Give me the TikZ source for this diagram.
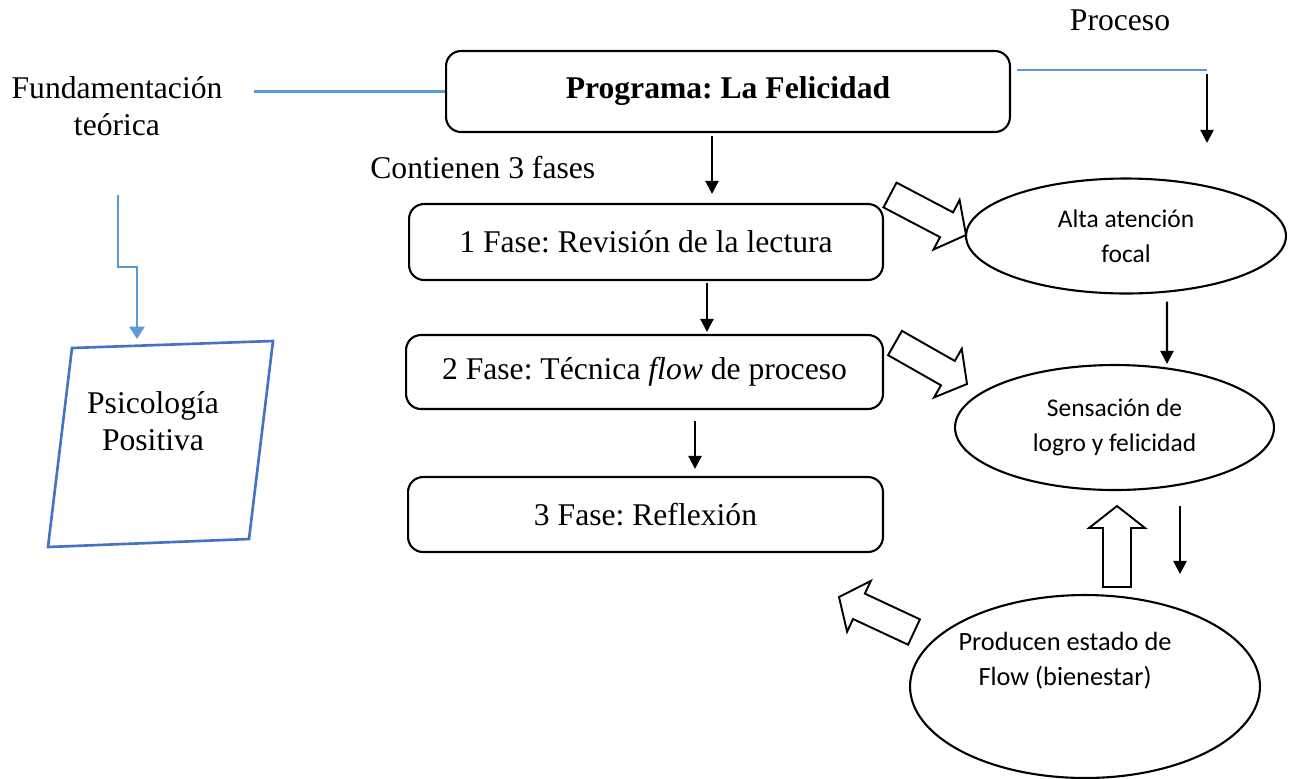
\documentclass[tikz,border=0pt]{standalone}
\usepackage{fontspec}
\setmainfont{Liberation Serif}
\newfontfamily\calibri{Carlito}
\usetikzlibrary{shapes.geometric, arrows.meta, calc}
\frenchspacing

\definecolor{lineblue}{HTML}{5B9BD5}
\definecolor{shapeblue}{HTML}{4472C4}

\newcommand{\hollowarrow}[2]{%
    \coordinate (ha-neck) at ($(#2)!0.44cm!(#1)$);
    \draw[hollow] ($(#1)!0.28cm!90:(#2)$) -- ($(ha-neck)!0.28cm!-90:(#1)$)
        -- ($(ha-neck)!0.56cm!-90:(#1)$) -- (#2) -- ($(ha-neck)!0.56cm!90:(#1)$)
        -- ($(ha-neck)!0.28cm!90:(#1)$) -- ($(#1)!0.28cm!-90:(#2)$) -- cycle;
}

\begin{document}
\begin{tikzpicture}
    [
        x = 0.02cm, y = -0.02cm,
        every node/.style = {font = \fontsize{18}{21}\selectfont},
        fase/.style = {draw, rounded corners = 0.3cm, line width = 1.2pt, inner sep = 0pt},
        bubble/.style = {draw, ellipse, line width = 1.2pt, inner sep = 0pt, align = center,
            font = \calibri\fontsize{14.5}{20}\selectfont},
        arr/.style = {line width = 1.3pt, -{Triangle[width = 7.5pt, length = 7.5pt]}},
        blueline/.style = {draw = lineblue, line width = 1.4pt},
        bluearr/.style = {blueline, -{Triangle[width = 8.5pt, length = 7pt]}},
        hollow/.style = {draw, fill = white, line width = 1.1pt, line join = miter}
    ]

    \useasboundingbox (0, 0) rectangle (1290, 778);

    \node[fase, minimum width = 11.28cm, minimum height = 1.62cm,
        font = \fontsize{18}{21}\selectfont\bfseries] (prog) at (728, 91.5) {Programa: La Felicidad};
    \node[fase, minimum width = 9.48cm, minimum height = 1.52cm] (fase1) at (646, 242) {1 Fase: Revisión de la lectura};
    \node[fase, minimum width = 9.54cm, minimum height = 1.48cm] (fase2) at (644.5, 372) {2 Fase: Técnica \textit{flow} de proceso};
    \node[fase, minimum width = 9.5cm, minimum height = 1.5cm] (fase3) at (645.5, 514.5) {3 Fase: Reflexión};

    \node[bubble, minimum width = 6.4cm, minimum height = 2.3cm] (focal) at (1126, 236) {Alta atención\\focal};
    \node[bubble, minimum width = 6.38cm, minimum height = 2.5cm] (logro) at (1114.5, 427.5) {Sensación de\\logro y felicidad};
    \node[bubble, minimum width = 7cm, minimum height = 3.66cm] (flow) at (1085, 686.5) {};
    \node[align = center, font = \calibri\fontsize{15}{20}\selectfont] (flowtext) at (1065, 661) {Producen estado de\\Flow (bienestar)};

    \node[align = center] (fund) at (117, 106.5) {Fundamentación\\teórica};
    \node (proceso) at (1120, 20) {Proceso};
    \node[anchor = west, inner sep = 0pt] (fases) at (370, 168) {Contienen 3 fases};

    \draw[draw = shapeblue, line width = 1.5pt] (48, 547) -- (72, 348) -- (273, 341) -- (249, 539) -- cycle;
    \node[align = center] (psico) at (153, 421.5) {Psicología\\Positiva};

    \coordinate (fundbot) at (118, 195);
    \coordinate (blueknee) at (118, 267);
    \coordinate (psicotop) at (137, 339);
    \coordinate (procturn) at (1207, 70);
    \coordinate (proctip) at (1207, 143);

    \draw[blueline] ([xshift = 0.5cm]fund.east |- prog.west) -- (prog.west);
    \draw[bluearr] (fundbot) -- (blueknee) -- (blueknee -| psicotop) -- (psicotop);
    \draw[blueline] ([shift = {(6, -21.5)}]prog.east) -- (procturn);
    \draw[arr] ([yshift = -0.08cm]procturn) -- (proctip);

    \draw[arr, shorten < = 0.05cm, shorten > = 0.18cm] ([xshift = -0.32cm]prog.south) -- ([xshift = -0.32cm]prog.south |- fase1.north);
    \draw[arr, shorten < = 0.04cm, shorten > = 0.04cm] ([xshift = 1.22cm]fase1.south) -- ([xshift = 1.22cm]fase1.south |- fase2.north);
    \draw[arr, shorten < = 0.22cm, shorten > = 0.14cm] ([xshift = 1.01cm]fase2.south) -- ([xshift = 1.01cm]fase2.south |- fase3.north);
    \draw[arr] ([shift = {(41, 7)}]focal.south) -- ([xshift = 0.82cm]focal.south |- logro.north);
    \draw[arr] ([shift = {(65.5, 15)}]logro.south) -- ([shift = {(65.5, 83)}]logro.south);

    \hollowarrow{890, 195}{966, 235}
    \hollowarrow{895, 343}{967, 384}
    \hollowarrow{1117, 587}{1117, 506}
    \hollowarrow{914, 632}{839, 597}
\end{tikzpicture}
\end{document}
